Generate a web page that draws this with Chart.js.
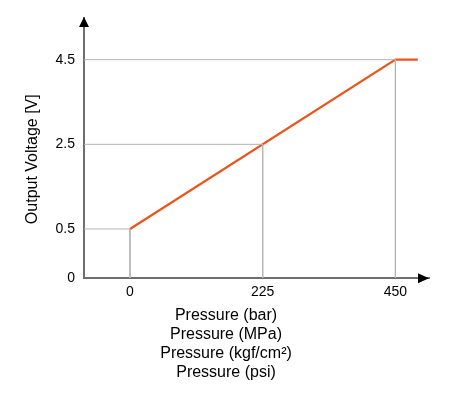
<!DOCTYPE html>
<html>
<head>
<meta charset="utf-8">
<script src="https://cdn.jsdelivr.net/npm/chart.js@4.4.1/dist/chart.umd.min.js"></script>
<style>
  html, body { margin: 0; padding: 0; background: #fff; }
  #wrap { width: 455px; height: 397px; }
</style>
</head>
<body>
<div id="wrap"><canvas id="c" width="455" height="397"></canvas></div>
<script>
// sensor output curve
var pressure = [0, 450, 488];
var voltage = [0.5, 4.5, 4.5];
// reference points with drop lines
var refX = [0, 225, 450];
var refY = [0.5, 2.5, 4.5];
var xTicks = [0, 225, 450];
var yTicks = [0.5, 2.5, 4.5];
var xMin = -78, xMax = 507;
var yMin = -0.663, yMax = 5.485;
var yTitle = 'Output Voltage [V]';
var xTitle = ['Pressure (bar)', 'Pressure (MPa)', 'Pressure (kgf/cm\u00b2)', 'Pressure (psi)'];

var FONT = 'Liberation Sans, Arial, Helvetica, sans-serif';
var ORANGE = '#e8561c', GRAY = '#b4b4b4', AXIS = '#6e6e6e';

var datasets = [];
refX.forEach(function(x, i){
  datasets.push({
    data: [{ x: xMin, y: refY[i] }, { x: x, y: refY[i] }, { x: x, y: yMin }],
    borderColor: GRAY, borderWidth: 1, pointRadius: 0, fill: false, tension: 0
  });
});
datasets.push({
  data: pressure.map(function(p, i){ return { x: p, y: voltage[i] }; }),
  borderColor: ORANGE, borderWidth: 2.2, pointRadius: 0, fill: false, tension: 0
});

// arrow heads at the ends of both axes
var arrows = {
  id: 'arrows',
  afterDraw: function(chart){
    var a = chart.chartArea, ctx = chart.ctx;
    ctx.save();
    ctx.fillStyle = '#000';
    ctx.beginPath();
    ctx.moveTo(a.left, a.top - 1);
    ctx.lineTo(a.left - 5, a.top + 9);
    ctx.lineTo(a.left + 5, a.top + 9);
    ctx.closePath(); ctx.fill();
    ctx.beginPath();
    ctx.moveTo(a.right, a.bottom);
    ctx.lineTo(a.right - 11, a.bottom - 5);
    ctx.lineTo(a.right - 11, a.bottom + 5);
    ctx.closePath(); ctx.fill();
    ctx.restore();
  }
};

new Chart(document.getElementById('c'), {
  type: 'line',
  data: { datasets: datasets },
  plugins: [arrows],
  options: {
    responsive: false,
    animation: false,
    layout: { padding: { top: 18, right: 3, left: 0, bottom: 0 } },
    plugins: {
      legend: { display: false },
      tooltip: { enabled: false },
      title: {
        display: true, position: 'bottom', text: xTitle, color: '#000',
        font: { family: FONT, size: 16, weight: 'normal', lineHeight: 1.1875 },
        padding: { top: -1, bottom: 15 }
      }
    },
    scales: {
      x: {
        type: 'linear', min: xMin, max: xMax,
        afterBuildTicks: function(s){ s.ticks = xTicks.map(function(v){ return { value: v }; }); },
        grid: { display: false, drawTicks: false },
        border: { display: true, color: AXIS, width: 2 },
        ticks: { color: '#000', padding: 6, font: { family: FONT, size: 14 }, maxRotation: 0 }
      },
      y: {
        type: 'linear', min: yMin, max: yMax,
        afterBuildTicks: function(s){
          s.ticks = [{ value: yMin }].concat(yTicks.map(function(v){ return { value: v }; }));
        },
        afterFit: function(s){ s.width = 84; },
        grid: { display: false, drawTicks: false },
        border: { display: true, color: AXIS, width: 2 },
        ticks: {
          color: '#000', padding: 9, font: { family: FONT, size: 14 },
          callback: function(v){ return v === yMin ? '0' : String(v); }
        },
        title: {
          display: true, text: yTitle + '     ', color: '#000',
          font: { family: FONT, size: 16 }, padding: { top: 23, bottom: 0 }
        }
      },
      // empty spacer on the right so the chart area ends where the arrow tip is
      spacer: {
        type: 'linear', position: 'right', display: true,
        afterFit: function(s){ s.width = 23; },
        grid: { display: false, drawTicks: false },
        border: { display: false },
        ticks: { display: false }
      }
    }
  }
});
</script>
</body>
</html>
